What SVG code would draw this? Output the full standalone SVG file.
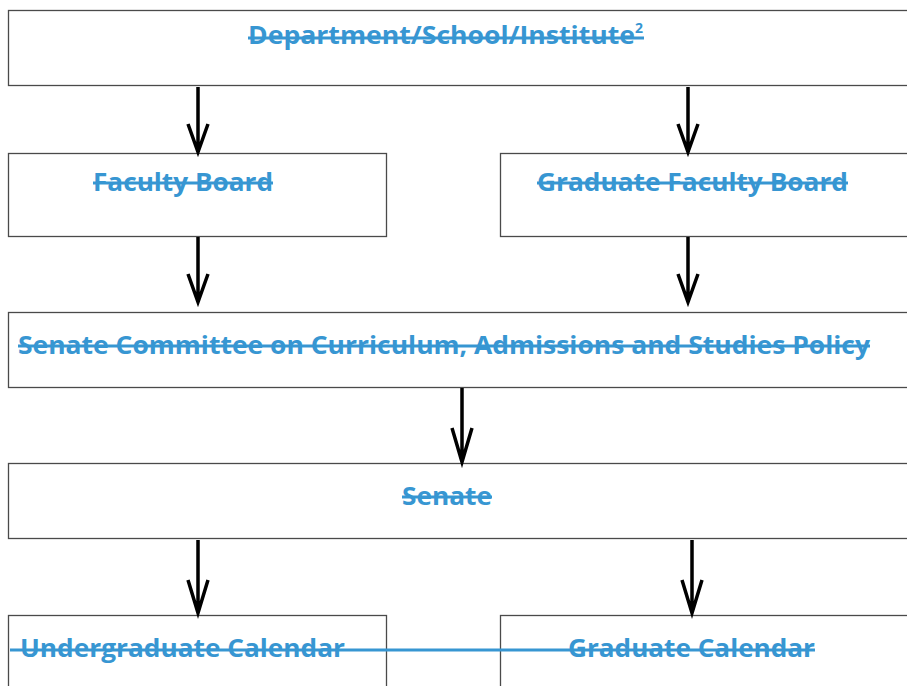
<svg xmlns="http://www.w3.org/2000/svg" width="907" height="686" viewBox="0 0 907 686">
<style>
.box{fill:#fff;stroke:#4a4a4a;stroke-width:1.3}
.t{font-family:"Open Sans","Liberation Sans",sans-serif;font-weight:bold;font-size:25px;fill:#3796d2}
.sup{font-family:"Open Sans","Liberation Sans",sans-serif;font-weight:bold;font-size:14px;fill:#3796d2}
.st{stroke:#3796d2;stroke-width:3;fill:none}
.ar{stroke:#000;stroke-width:3.5;fill:none;stroke-linejoin:miter}
</style>
<rect width="907" height="686" fill="#fff"/>
<g id="node-dept">
<rect class="box" x="8.5" y="10.5" width="910" height="75"/>
<text class="t" x="248" y="44" textLength="387" lengthAdjust="spacingAndGlyphs">Department/School/Institute</text>
<text class="sup" x="635" y="33">2</text>
<line class="st" x1="248" y1="38" x2="644" y2="38"/>
</g>
<g id="node-faculty-board">
<rect class="box" x="8.5" y="153.5" width="378" height="83"/>
<text class="t" x="93" y="191" textLength="180" lengthAdjust="spacingAndGlyphs">Faculty Board</text>
<line class="st" x1="93" y1="183" x2="273" y2="183"/>
</g>
<g id="node-graduate-faculty-board">
<rect class="box" x="500.5" y="153.5" width="420" height="83"/>
<text class="t" x="537" y="191" textLength="311" lengthAdjust="spacingAndGlyphs">Graduate Faculty Board</text>
<line class="st" x1="537" y1="183" x2="848" y2="183"/>
</g>
<g id="node-senate-committee">
<rect class="box" x="8.5" y="312.5" width="910" height="75"/>
<text class="t" x="18" y="354" textLength="852" lengthAdjust="spacingAndGlyphs">Senate Committee on Curriculum, Admissions and Studies Policy</text>
<line class="st" x1="18" y1="346" x2="870" y2="346"/>
</g>
<g id="node-senate">
<rect class="box" x="8.5" y="463.5" width="910" height="75"/>
<text class="t" x="402" y="505" textLength="90" lengthAdjust="spacingAndGlyphs">Senate</text>
<line class="st" x1="402" y1="497" x2="492" y2="497"/>
</g>
<g id="node-undergraduate-calendar">
<rect class="box" x="8.5" y="615.5" width="378" height="90"/>
<text class="t" x="20" y="657" textLength="325" lengthAdjust="spacingAndGlyphs">Undergraduate Calendar</text>
</g>
<g id="node-graduate-calendar">
<rect class="box" x="500.5" y="615.5" width="420" height="90"/>
<text class="t" x="568" y="657" textLength="247" lengthAdjust="spacingAndGlyphs">Graduate Calendar</text>
</g>
<line class="st" x1="10" y1="650" x2="815" y2="650"/>
<g id="connectors">
<path class="ar" d="M198 87V152M188 124L198 152L208 124"/>
<path class="ar" d="M688 87V152M678 124L688 152L698 124"/>
<path class="ar" d="M198 237V302M188 274L198 302L208 274"/>
<path class="ar" d="M688 237V302M678 274L688 302L698 274"/>
<path class="ar" d="M462 388V462M452 428L462 462L472 428"/>
<path class="ar" d="M198 540V613M188 580L198 613L208 580"/>
<path class="ar" d="M692 540V613M682 580L692 613L702 580"/>
</g>
</svg>
